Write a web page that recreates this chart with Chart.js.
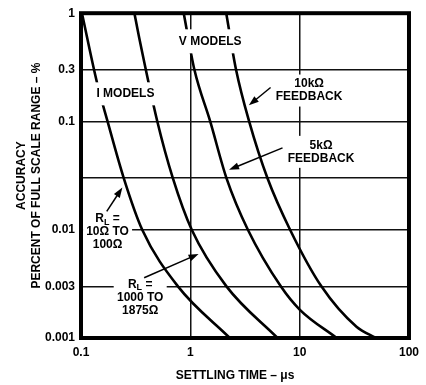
<!DOCTYPE html>
<html>
<head>
<meta charset="utf-8">
<script src="https://cdn.jsdelivr.net/npm/chart.js@4.4.0/dist/chart.umd.min.js"></script>
<style>
    html, body { margin: 0; padding: 0; background: #fff; }
    #wrap { width: 426px; height: 385px; }
</style>
</head>
<body>
<div id="wrap"><canvas id="settlingGrafico"></canvas></div>
<script>
// eixos
var xTicks = [0.1, 1, 10, 100],
    yTicks = [0.001, 0.003, 0.01, 0.03, 0.1, 0.3, 1],
    ySemLabel = [0.03];

// I models, RL = 10 to 100 ohm
var tempoRl10 = [0.102, 0.14, 0.175, 0.246, 0.363, 0.77, 2.3],
    precRl10  = [1, 0.229, 0.1, 0.03, 0.01, 0.003, 0.001];

// I models, RL = 1000 to 1875 ohm
var tempoRl1000 = [0.308, 0.341, 0.499, 0.692, 1.03, 2.14, 6.28],
    precRl1000  = [1, 0.59, 0.1, 0.03, 0.01, 0.003, 0.001];

// V models, 5k feedback
var tempo5k = [0.87, 1.09, 1.52, 2.14, 3.36, 6.72, 10, 21.8],
    prec5k  = [1, 0.3, 0.1, 0.03, 0.01, 0.003, 0.00183, 0.001];

// V models, 10k feedback
var tempo10k = [2.13, 2.62, 3.45, 5.07, 8.17, 15.8, 33.1, 49.9],
    prec10k  = [1, 0.3, 0.1, 0.03, 0.01, 0.003, 0.00127, 0.001];

// textos dentro do grafico
var rotulosTexto = [
    ['I MODELS'],
    ['V MODELS'],
    ['10kΩ', 'FEEDBACK'],
    ['5kΩ', 'FEEDBACK'],
    ['R_L =', '10Ω TO', '100Ω'],
    ['R_L =', '1000 TO', '1875Ω']
];
var rotulosX = [0.255, 1.52, 12.2, 15.7, 0.175, 0.348],
    rotulosY = [0.18, 0.55, 0.193, 0.0524, 0.0095, 0.00237];

// setas: [x1, y1, x2, y2]
var setas = [
    [5.42, 0.206, 3.43, 0.141],
    [6.97, 0.057, 2.26, 0.0358],
    [0.172, 0.0148, 0.239, 0.0245],
    [0.378, 0.0036, 1.19, 0.00598]
];

var fonte = '"Liberation Sans", Arial, Helvetica, sans-serif';
var caixas = [[64, 23], [68, 24], [72, 32], [72, 32], [49, 40], [53, 42]];

function pares(xs, ys) {
    var out = [];
    for (var i = 0; i < xs.length; i++) {
        out.push({ x: xs[i], y: ys[i] });
    }
    return out;
}

function textoRico(c, s, cx, cy) {
    // "_X" = subscrito
    var partes = [], i = 0;
    while (i < s.length) {
        if (s[i] === '_') {
            partes.push({ t: s[i + 1], sub: true });
            i += 2;
        } else {
            var j = s.indexOf('_', i);
            if (j < 0) j = s.length;
            partes.push({ t: s.slice(i, j), sub: false });
            i = j;
        }
    }
    var total = 0;
    partes.forEach(function (p) {
        c.font = 'bold ' + (p.sub ? 9 : 12) + 'px ' + fonte;
        p.w = c.measureText(p.t).width;
        total += p.w;
    });
    var x = cx - total / 2;
    c.textAlign = 'left';
    c.textBaseline = 'middle';
    partes.forEach(function (p) {
        c.font = 'bold ' + (p.sub ? 9 : 12) + 'px ' + fonte;
        c.fillText(p.t, x, p.sub ? cy + 3 : cy);
        x += p.w;
    });
}

function seta(c, x1, y1, x2, y2) {
    var ang = Math.atan2(y2 - y1, x2 - x1),
        cs = Math.cos(ang), sn = Math.sin(ang),
        L = 10, W = 3.5;
    c.beginPath();
    c.moveTo(x1, y1);
    c.lineTo(x2 - cs * L * 0.8, y2 - sn * L * 0.8);
    c.stroke();
    c.beginPath();
    c.moveTo(x2, y2);
    c.lineTo(x2 - L * cs + W * sn, y2 - L * sn - W * cs);
    c.lineTo(x2 - L * cs - W * sn, y2 - L * sn + W * cs);
    c.closePath();
    c.fill();
}

var anotacoes = {
    id: 'anotacoes',
    afterDatasetsDraw: function (chart) {
        var c = chart.ctx,
            xs = chart.scales.x,
            ys = chart.scales.y,
            a = chart.chartArea;

        c.save();

        // fundo branco atras dos textos
        c.fillStyle = '#fff';
        for (var i = 0; i < rotulosTexto.length; i++) {
            var px = xs.getPixelForValue(rotulosX[i]),
                py = ys.getPixelForValue(rotulosY[i]);
            c.fillRect(px - caixas[i][0] / 2, py - caixas[i][1] / 2, caixas[i][0], caixas[i][1]);
        }

        // moldura
        c.strokeStyle = '#000';
        c.lineWidth = 4;
        c.strokeRect(a.left, a.top, a.right - a.left, a.bottom - a.top);

        // textos
        c.fillStyle = '#000';
        for (var k = 0; k < rotulosTexto.length; k++) {
            var linhas = rotulosTexto[k],
                cx = xs.getPixelForValue(rotulosX[k]),
                cy = ys.getPixelForValue(rotulosY[k]),
                lh = 13,
                y0 = cy - (linhas.length - 1) * lh / 2;
            for (var l = 0; l < linhas.length; l++) {
                textoRico(c, linhas[l], cx, y0 + l * lh);
            }
        }

        // setas
        c.lineWidth = 1.5;
        setas.forEach(function (s) {
            seta(c, xs.getPixelForValue(s[0]), ys.getPixelForValue(s[1]),
                    xs.getPixelForValue(s[2]), ys.getPixelForValue(s[3]));
        });

        // titulo do eixo x
        c.font = 'bold 12px ' + fonte;
        c.textAlign = 'center';
        c.textBaseline = 'middle';
        c.fillText('SETTLING TIME – μs', (a.left + a.right) / 2 - 10, 376);

        c.restore();
    }
};

var ctx = document.getElementById('settlingGrafico').getContext('2d');

function serie(dados) {
    return {
        data: dados,
        borderColor: '#000',
        borderWidth: 2.6,
        pointRadius: 0,
        fill: false,
        cubicInterpolationMode: 'monotone'
    };
}

var settlingGrafico = new Chart(ctx, {
    type: 'line',
    data: {
        datasets: [
            serie(pares(tempoRl10, precRl10)),
            serie(pares(tempoRl1000, precRl1000)),
            serie(pares(tempo5k, prec5k)),
            serie(pares(tempo10k, prec10k))
        ]
    },
    options: {
        responsive: true,
        maintainAspectRatio: false,
        animation: false,
        layout: { padding: { top: 10, right: 13, left: 0, bottom: 0 } },
        plugins: {
            legend: { display: false },
            tooltip: { enabled: false }
        },
        scales: {
            x: {
                type: 'logarithmic',
                min: 0.1,
                max: 100,
                afterBuildTicks: function (s) {
                    s.ticks = xTicks.map(function (v) { return { value: v }; });
                },
                afterFit: function (s) { s.height = 47; },
                grid: { color: '#111', lineWidth: 1.5, drawTicks: false },
                border: { display: false },
                ticks: {
                    color: '#000',
                    font: { family: fonte, size: 12, weight: 'bold' },
                    padding: 7,
                    maxRotation: 0,
                    autoSkip: false,
                    callback: function (v) { return String(v); }
                }
            },
            y: {
                type: 'logarithmic',
                min: 0.001,
                max: 1,
                afterBuildTicks: function (s) {
                    s.ticks = yTicks.map(function (v) { return { value: v }; });
                },
                afterFit: function (s) { s.width = 81; },
                grid: { color: '#111', lineWidth: 1.5, drawTicks: false },
                border: { display: false },
                title: {
                    display: true,
                    text: ['ACCURACY', 'PERCENT OF FULL SCALE RANGE – %'],
                    color: '#000',
                    font: { family: fonte, size: 12, weight: 'bold', lineHeight: 1.25 },
                    padding: { top: 14, bottom: 0 }
                },
                ticks: {
                    color: '#000',
                    font: { family: fonte, size: 12, weight: 'bold' },
                    padding: 6,
                    autoSkip: false,
                    callback: function (v) {
                        return ySemLabel.indexOf(v) >= 0 ? '' : String(v);
                    }
                }
            }
        }
    },
    plugins: [anotacoes]
});
</script>
</body>
</html>
